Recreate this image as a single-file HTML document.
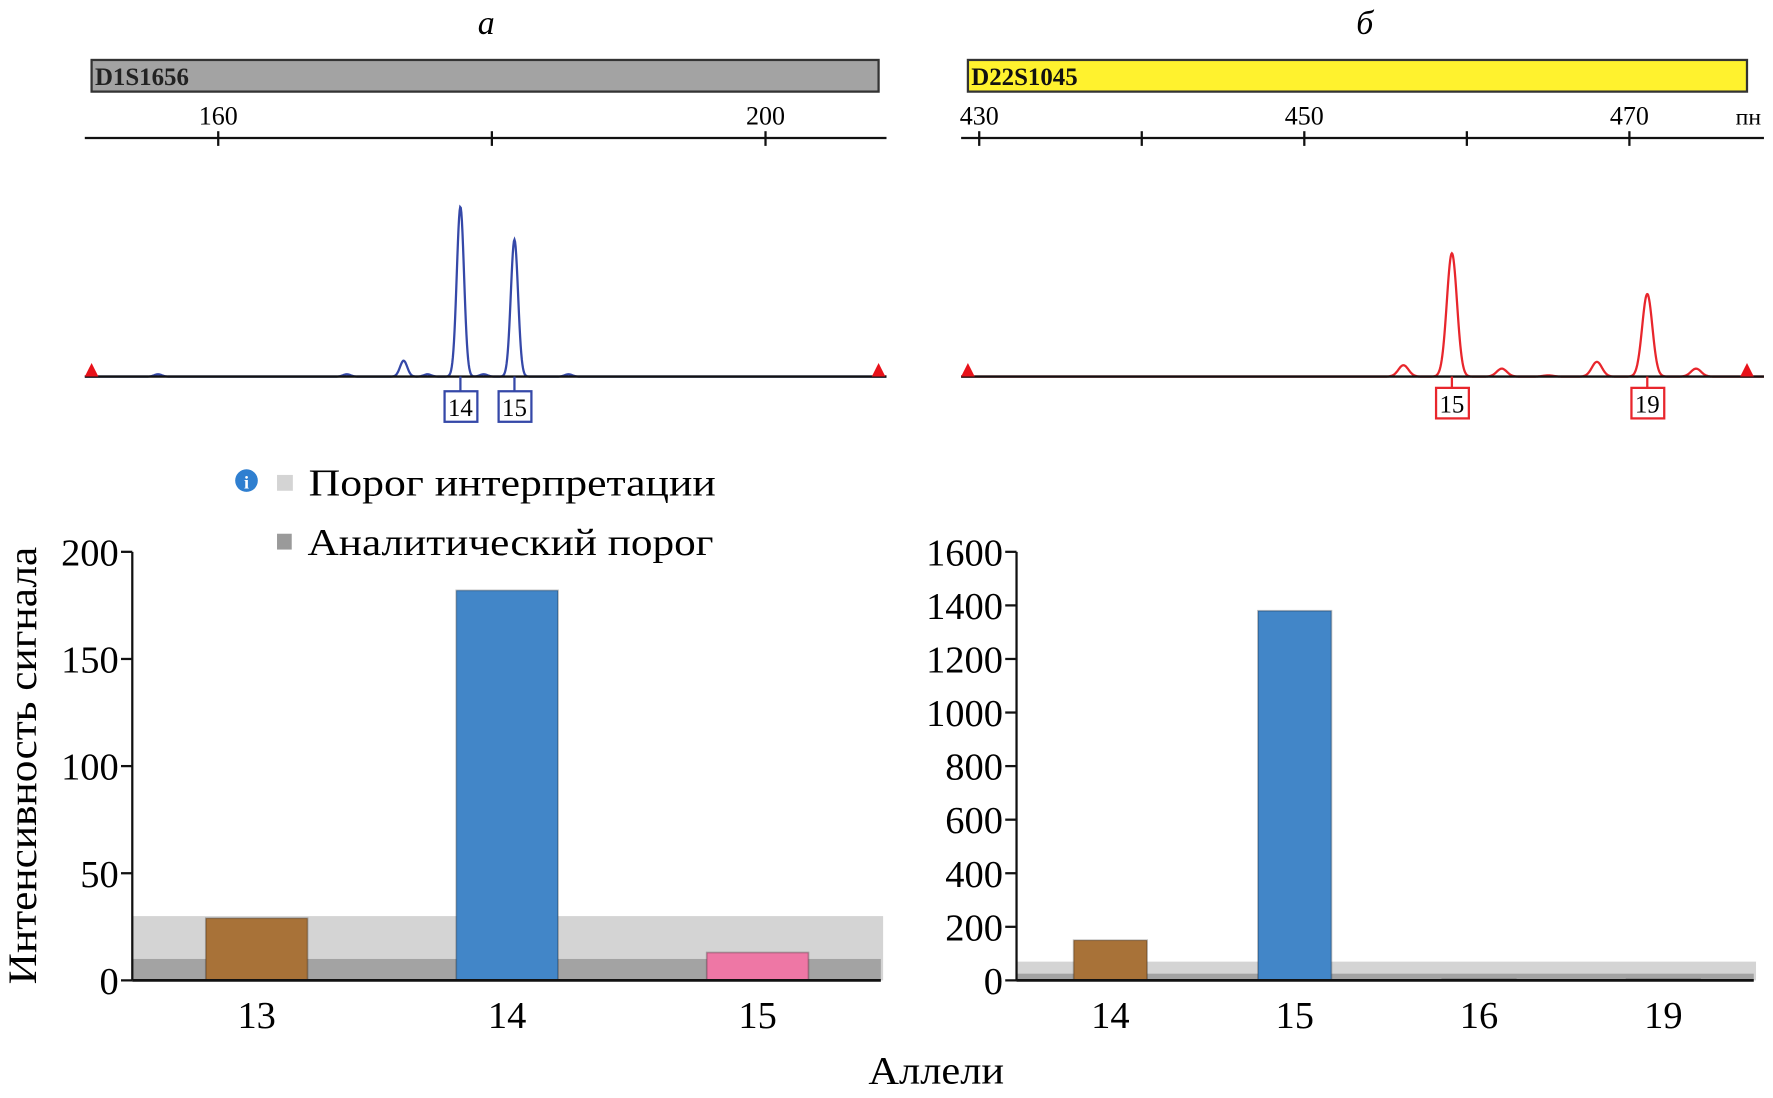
<!DOCTYPE html>
<html><head><meta charset="utf-8">
<style>
html,body{margin:0;padding:0;background:#fff;width:1773px;height:1098px;overflow:hidden}
svg{display:block;font-family:"Liberation Serif",serif}
</style></head>
<body>
<svg id="fig" width="1773" height="1098" viewBox="0 0 1568 971" xmlns="http://www.w3.org/2000/svg">
<text x="430" y="30" font-size="30" font-style="italic" text-anchor="middle">а</text>
<text x="1207" y="30" font-size="30" font-style="italic" text-anchor="middle">б</text>
<rect x="81" y="53" width="696" height="28" fill="#a3a3a3" stroke="#333" stroke-width="2"/>
<text x="84" y="75" font-size="22" font-weight="bold" fill="#222">D1S1656</text>
<rect x="856" y="53" width="689" height="28" fill="#fff22e" stroke="#333" stroke-width="2"/>
<text x="859" y="75" font-size="22" font-weight="bold" fill="#111">D22S1045</text>
<text x="1535" y="110" font-size="21">пн</text>
<g id="epg"></g>
<g>
<circle cx="218" cy="425" r="10" fill="#2f7fd0"/>
<text x="218" y="432" font-size="16" font-weight="bold" fill="#fff" text-anchor="middle">i</text>
<rect x="245" y="420" width="14" height="14" fill="#d4d4d4"/>
<text x="273" y="438" font-size="34" textLength="360" lengthAdjust="spacingAndGlyphs">Порог интерпретации</text>
<rect x="245" y="472" width="13" height="14" fill="#9a9a9a"/>
<text x="272" y="491" font-size="34" textLength="359" lengthAdjust="spacingAndGlyphs">Аналитический порог</text>
</g>
<text transform="translate(32,677) rotate(-90)" font-size="36" text-anchor="middle" textLength="387" lengthAdjust="spacingAndGlyphs">Интенсивность сигнала</text>
<text x="828" y="958" font-size="35" text-anchor="middle" textLength="120" lengthAdjust="spacingAndGlyphs">Аллели</text>
<g id="bars"></g>
</svg>
<script>
const NS="http://www.w3.org/2000/svg";
// ---- electropherogram data ----
const leftTicksBp=[160,180,200];
const leftTickLabels=["160","","200"];
const leftPeakBp=[177.7,181.65,173.55,155.6,169.4,175.3,179.4,185.6];
const leftPeakH=[150,121,14,2,2,2,2,2];
const leftCalled=["14","15"];
const leftCalledBp=[177.7,181.65];
const rightTicksBp=[430,440,450,460,470];
const rightTickLabels=["430","","450","","470"];
const rightPeakBp=[459.08,471.1,456.1,462.15,468.0,474.1,465.0];
const rightPeakH=[109,73,10,7,13,7,1];
const rightCalled=["15","19"];
const rightCalledBp=[459.08,471.1];
// ---- bar chart data ----
const leftCats=["13","14","15"];
const leftVals=[29,182,13];
const leftColors=["#a87238","#4286c8","#ee77a5"];
const leftYTicks=[0,50,100,150,200];
const leftInterp=30, leftAnalyt=10;
const rightCats=["14","15","16","19"];
const rightVals=[150,1380,4,4];
const rightColors=["#a87238","#4286c8","#ececec","#ececec"];
const rightYTicks=[0,200,400,600,800,1000,1200,1400,1600];
const rightInterp=70, rightAnalyt=25;

function el(tag,attrs,parent,txt){const e=document.createElementNS(NS,tag);for(const k in attrs)e.setAttribute(k,attrs[k]);if(txt!==undefined)e.textContent=txt;parent.appendChild(e);return e;}
const epg=document.getElementById('epg');
function drawEPG(cfg){
  const bx=bp=>cfg.x0+(bp-cfg.bp0)*cfg.pxPerBp;
  let g=el('g',{},epg);
  
  
  let l=el('line',{x1:cfg.ax1,x2:cfg.ax2,y1:122,y2:122,stroke:'#111','stroke-width':2},g);
  
  cfg.ticks.forEach((t,i)=>{
    let tk=el('line',{x1:bx(t),x2:bx(t),y1:116,y2:129,stroke:'#111','stroke-width':2},g);
    
    if(cfg.tickLabels[i]){let tx=el('text',{x:bx(t),y:110,'font-size':23,'text-anchor':'middle'},g,cfg.tickLabels[i]);
      }
  });
  const base=333, hs=1;
  let d='';
  for(let x=cfg.ax1;x<=cfg.ax2;x+=0.5){
    let y=0;
    cfg.peakBp.forEach((p,i)=>{const dx=x-bx(p);const s=cfg.sigma;y+=cfg.peakH[i]*Math.exp(-dx*dx/(2*s*s));});
    d+=(d?'L':'M')+x.toFixed(1)+' '+(base-y*hs).toFixed(1);
  }
  let tr=el('path',{d:d,fill:'none',stroke:cfg.color,'stroke-width':2},g);
  
  let bl=el('line',{x1:cfg.ax1,x2:cfg.ax2,y1:base,y2:base,stroke:'#111','stroke-width':2},g);
  
  cfg.markers.forEach(mx=>{let m=el('path',{d:`M${mx-6} ${base}L${mx} ${base-12}L${mx+6} ${base}Z`,fill:'#e8121a'},g);
    });
  cfg.called.forEach((c,i)=>{
    const x=bx(cfg.calledBp[i]);
    el('line',{x1:x,x2:x,y1:base,y2:cfg.boxY,stroke:cfg.color,'stroke-width':2},g);
    let b=el('rect',{x:x-14,y:cfg.boxY,width:29,height:27,fill:'#fff',stroke:cfg.color,'stroke-width':2},g);
    
    let t=el('text',{x:x,y:cfg.boxY+22,'font-size':22,'text-anchor':'middle'},g,c);
    
  });
}
drawEPG({name:'epg-d1s1656',x0:193,bp0:160,pxPerBp:12.1,ax1:75,ax2:784,ticks:leftTicksBp,tickLabels:leftTickLabels,peakBp:leftPeakBp,peakH:leftPeakH,color:'#3548a8',sigma:3.2,markers:[81,777],called:leftCalled,calledBp:leftCalledBp,boxY:346});
drawEPG({name:'epg-d22s1045',x0:866,bp0:430,pxPerBp:14.375,ax1:850,ax2:1560,ticks:rightTicksBp,tickLabels:rightTickLabels,peakBp:rightPeakBp,peakH:rightPeakH,color:'#e8262c',sigma:4.5,markers:[856,1545],called:rightCalled,calledBp:rightCalledBp,boxY:343});

const bars=document.getElementById('bars');
function drawBars(cfg){
  const y=v=>cfg.y0-(v/cfg.max)*(cfg.y0-cfg.y1);
  const cx=i=>cfg.c0+i*cfg.step;
  let g=el('g',{},bars);
  
  let ib=el('rect',{x:cfg.ax,y:y(cfg.interp),width:cfg.axEnd+2-cfg.ax,height:cfg.y0-y(cfg.interp),fill:'#d4d4d4'},g);
  
  let ab=el('rect',{x:cfg.ax,y:y(cfg.analyt),width:cfg.axEnd-cfg.ax,height:cfg.y0-y(cfg.analyt),fill:'#a3a3a3'},g);
  
  cfg.vals.forEach((v,i)=>{
    let r=el('rect',{x:cx(i)-cfg.bw/2,y:y(v),width:cfg.bw,height:cfg.y0-y(v),fill:cfg.colors[i],stroke:'rgba(0,0,0,0.25)','stroke-width':1.5},g);
    
    let t=el('text',{x:cx(i),y:cfg.y0+42,'font-size':34,'text-anchor':'middle'},g,cfg.cats[i]);
    
  });
  el('line',{x1:cfg.ax,x2:cfg.ax,y1:cfg.y1,y2:cfg.y0,stroke:'#111','stroke-width':2},g);
  el('line',{x1:cfg.ax,x2:cfg.axEnd,y1:cfg.y0,y2:cfg.y0,stroke:'#111','stroke-width':2.5},g);
  cfg.ticks.forEach(t=>{
    let tk=el('line',{x1:cfg.ax-10,x2:cfg.ax,y1:y(t),y2:y(t),stroke:'#111','stroke-width':2},g);
    
    let tx=el('text',{x:cfg.ax-12,y:y(t)+12,'font-size':34,'text-anchor':'end'},g,String(t));
    
  });
}
drawBars({name:'bar-chart-d1s1656',ax:117,axEnd:779,y0:867,y1:488,max:200,c0:227,step:221.5,bw:90,vals:leftVals,cats:leftCats,colors:leftColors,ticks:leftYTicks,interp:leftInterp,analyt:leftAnalyt});
drawBars({name:'bar-chart-d22s1045',ax:899,axEnd:1551,y0:867,y1:488,max:1600,c0:982,step:163,bw:65,vals:rightVals,cats:rightCats,colors:rightColors,ticks:rightYTicks,interp:rightInterp,analyt:rightAnalyt});
</script>
</body></html>
